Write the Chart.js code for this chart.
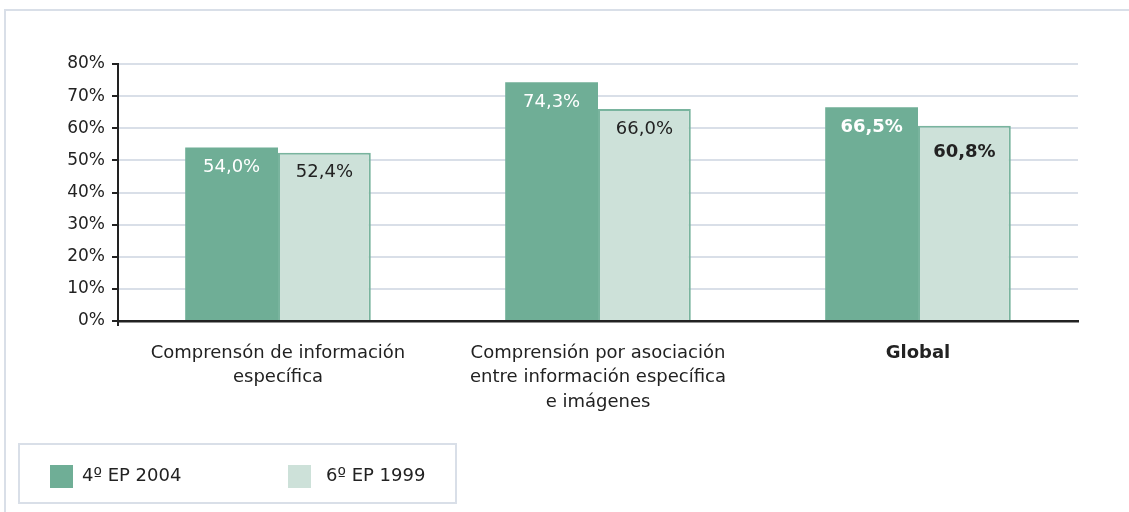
<!DOCTYPE html>
<html>
<head>
<meta charset="utf-8">
<script src="https://cdn.jsdelivr.net/npm/chart.js@4"></script>
<style>
  body { margin: 0; background: #fff; }
  canvas { display: block; }
</style>
</head>
<body>
<canvas id="myChart" width="1129" height="512"></canvas>
<script>
// categories and values
var categories = [
  ["Comprensón de información", "específica"],
  ["Comprensión por asociación", "entre información específica", "e imágenes"],
  "Global"
];
var series2004 = [54.0, 74.3, 66.5];
var series1999 = [52.4, 66.0, 60.8];
var seriesNames = ["4º EP 2004", "6º EP 1999"];
var yTicks = [0, 10, 20, 30, 40, 50, 60, 70, 80];

var darkGreen = "#6fae96";
var lightGreen = "#cde1d9";
var gridColor = "#d9dfe8";
var frameColor = "#d9dfe8";
var textColor = "#222222";
var fontFam = "'DejaVu Sans', sans-serif";

function fmt(v) {
  return v.toFixed(1).replace(".", ",") + "%";
}

// background + outer frame
var framePlugin = {
  id: "frame",
  beforeDraw: function(chart) {
    var c = chart.ctx;
    c.save();
    c.fillStyle = "#fff";
    c.fillRect(0, 0, chart.width, chart.height);
    c.strokeStyle = frameColor;
    c.lineWidth = 2;
    c.beginPath();
    c.moveTo(4, 10);
    c.lineTo(chart.width, 10);
    c.moveTo(5, 9);
    c.lineTo(5, chart.height);
    c.stroke();
    c.restore();
  },
  // y axis runs a little past the x axis
  afterDraw: function(chart) {
    var a = chart.chartArea;
    var c = chart.ctx;
    c.save();
    c.strokeStyle = textColor;
    c.lineWidth = 2;
    c.beginPath();
    c.moveTo(a.left, a.bottom);
    c.lineTo(a.left, a.bottom + 5);
    c.stroke();
    c.restore();
  }
};

// value labels inside the top of each bar
var valueLabels = {
  id: "valueLabels",
  afterDatasetsDraw: function(chart) {
    var c = chart.ctx;
    c.save();
    c.textAlign = "center";
    c.textBaseline = "middle";
    chart.data.datasets.forEach(function(ds, di) {
      var meta = chart.getDatasetMeta(di);
      meta.data.forEach(function(bar, i) {
        var bold = i === categories.length - 1;
        c.font = (bold ? "bold " : "") + "18px " + fontFam;
        c.fillStyle = di === 0 ? "#ffffff" : textColor;
        var off = (bold && di === 1) ? 27 : 20;
        c.fillText(fmt(ds.data[i]), bar.x, bar.y + off);
      });
    });
    c.restore();
  }
};

// boxed legend at the bottom left
var boxLegend = {
  id: "boxLegend",
  afterDraw: function(chart) {
    var c = chart.ctx;
    c.save();
    c.strokeStyle = frameColor;
    c.lineWidth = 2;
    c.strokeRect(19, 444, 437, 59);
    var xs = [50, 288];
    var tx = [82, 326];
    c.font = "18px " + fontFam;
    c.textBaseline = "middle";
    c.textAlign = "left";
    chart.data.datasets.forEach(function(ds, di) {
      c.fillStyle = ds.backgroundColor;
      c.fillRect(xs[di], 465, 23, 23);
      c.fillStyle = textColor;
      c.fillText(ds.label, tx[di], 476);
    });
    c.restore();
  }
};

const ctx = document.getElementById("myChart").getContext("2d");

var chart = new Chart(ctx, {
  type: "bar",
  data: {
    labels: categories,
    datasets: [
      {
        label: seriesNames[0],
        data: series2004,
        backgroundColor: darkGreen,
        borderWidth: 0
      },
      {
        label: seriesNames[1],
        data: series1999,
        backgroundColor: lightGreen,
        borderColor: "#79b49e",
        borderWidth: 2
      }
    ]
  },
  options: {
    responsive: false,
    animation: false,
    devicePixelRatio: 1,
    layout: { padding: { left: 10, right: 51, top: 64, bottom: 0 } },
    plugins: {
      legend: { display: false },
      tooltip: { enabled: false }
    },
    datasets: {
      bar: { categoryPercentage: 0.58, barPercentage: 1.0 }
    },
    scales: {
      x: {
        grid: { display: false, drawTicks: false },
        border: { display: true, color: textColor, width: 2.5 },
        ticks: {
          color: textColor,
          padding: 20,
          maxRotation: 0,
          autoSkip: false,
          font: function(c) {
            return {
              family: fontFam,
              size: 18,
              lineHeight: 1.36,
              weight: c.index === categories.length - 1 ? "bold" : "normal"
            };
          }
        },
        afterFit: function(s) { s.height = 191; }
      },
      y: {
        min: 0,
        max: 80,
        afterBuildTicks: function(s) {
          s.ticks = yTicks.map(function(v) { return { value: v }; });
        },
        grid: {
          color: function(c) {
            return c.tick && c.tick.value === 0 ? "rgba(0,0,0,0)" : gridColor;
          },
          lineWidth: 2,
          tickColor: textColor,
          tickLength: 6
        },
        border: { display: true, color: textColor, width: 2 },
        ticks: {
          color: textColor,
          padding: 7,
          font: { family: fontFam, size: 17 },
          callback: function(v) { return v + "%"; }
        },
        afterFit: function(s) { s.width = 108; }
      }
    }
  },
  plugins: [framePlugin, valueLabels, boxLegend]
});
</script>
</body>
</html>
